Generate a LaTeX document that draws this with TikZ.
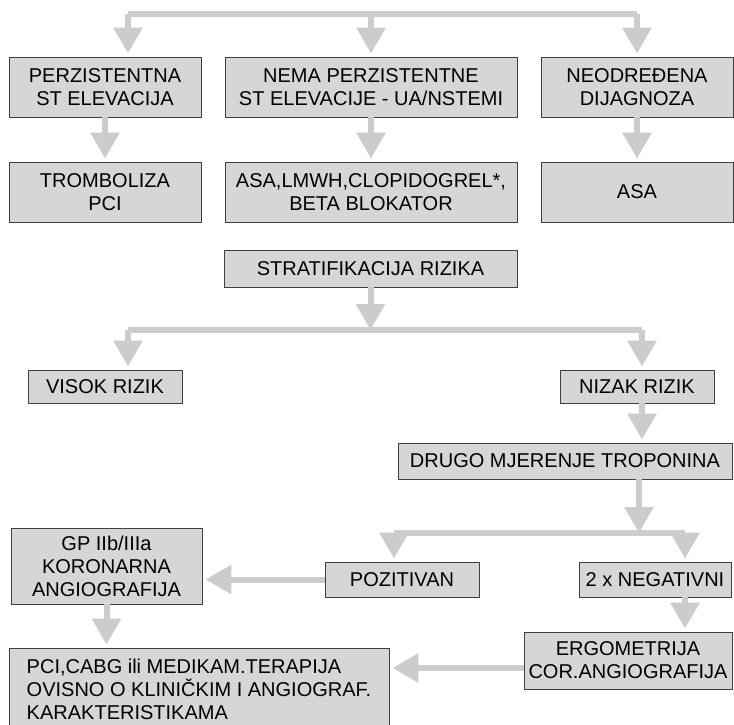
\documentclass[tikz,border=0pt]{standalone}
\usepackage{fontspec}
\setmainfont{Liberation Sans}
\usetikzlibrary{arrows.meta}

\definecolor{boxgray}{gray}{0.84}
\definecolor{flowgray}{gray}{0.80}

\begin{document}
\begin{tikzpicture}[
    x=1pt, y=-1pt,
    box/.style={draw=black!75, fill=boxgray, line width=0.9pt, align=center,
        inner sep=0pt, font=\fontsize{20}{23}\selectfont},
    flow/.style={flowgray, line width=6pt},
    go/.style={flow, -{Triangle[width=28pt,length=26pt]}, shorten >=3pt}
]

\useasboundingbox (0,0) rectangle (734,725);

% =========================
% TOP ROW
% =========================
\node[box, minimum width=192, minimum height=60] (pst) at (105,87)
    {PERZISTENTNA\\ST ELEVACIJA};
\node[box, minimum width=292, minimum height=60] (nema) at (371,87)
    {NEMA PERZISTENTNE\\ST ELEVACIJE - UA/NSTEMI};
\node[box, minimum width=192, minimum height=60] (neo) at (637,87)
    {NEODREĐENA\\DIJAGNOZA};

\node[box, minimum width=192, minimum height=60] (trom) at (105,192)
    {TROMBOLIZA\\PCI};
\node[box, minimum width=292, minimum height=60] (lmwh) at (371,192)
    {ASA,LMWH,CLOPIDOGREL*,\\BETA BLOKATOR};
\node[box, minimum width=192, minimum height=60] (asa) at (637,192)
    {ASA};

\coordinate (tl) at (128,14);
\coordinate (tm) at (371,14);
\coordinate (tr) at (637,14);
\draw[flow] (tl) -- (tr);
\draw[go] (tl) -- (tl |- pst.north);
\draw[go] (tm) -- (nema.north);
\draw[go] (tr) -- (neo.north);

\draw[go] (pst.south) -- (trom.north);
\draw[go] (nema.south) -- (lmwh.north);
\draw[go] (neo.south) -- (asa.north);

% =========================
% RISK
% =========================
\node[box, minimum width=293, minimum height=37] (strat) at (370.5,268.5)
    {STRATIFIKACIJA RIZIKA};
\node[box, minimum width=154, minimum height=33] (visok) at (105,386.5)
    {VISOK RIZIK};
\node[box, minimum width=154, minimum height=33] (nizak) at (637,386.5)
    {NIZAK RIZIK};

\coordinate (rl) at (128,330);
\coordinate (rm) at (370.5,330);
\coordinate (rr) at (642,330);
\draw[flow] (rl) -- (rr);
\draw[go, shorten >=0pt] (strat.south) -- (rm);
\draw[go] (rl) -- (rl |- visok.north);
\draw[go] (rr) -- (rr |- nizak.north);

% =========================
% TROPONIN
% =========================
\node[box, minimum width=334, minimum height=36] (drugo) at (565,461)
    {DRUGO MJERENJE TROPONINA};
\draw[go] (nizak.south -| rr) -- (rr |- drugo.north);

\node[box, minimum width=154, minimum height=35] (poz) at (402,579.5)
    {POZITIVAN};
\node[box, minimum width=152, minimum height=35] (neg) at (655,579.5)
    {2 x NEGATIVNI};

\coordinate (pl) at (394,533);
\coordinate (pm) at (639,533);
\coordinate (pr) at (685,533);
\draw[flow] (pl) -- (pr);
\draw[go, shorten >=0pt] (drugo.south -| pm) -- (pm);
\draw[go] (pl) -- (pl |- poz.north);
\draw[go] (pr) -- (pr |- neg.north);

% =========================
% BOTTOM
% =========================
\node[box, minimum width=191, minimum height=76] (gp) at (106.5,566)
    {GP IIb/IIIa\\KORONARNA\\ANGIOGRAFIJA};
\node[box, minimum width=208, minimum height=57] (ergo) at (628,660.5)
    {ERGOMETRIJA\\COR.ANGIOGRAFIJA};
\node[box, align=left, minimum width=380, minimum height=82] (pci) at (199,689)
    {PCI,CABG ili MEDIKAM.TERAPIJA\\OVISNO O KLINIČKIM I ANGIOGRAF.\\KARAKTERISTIKAMA};

\draw[go] (poz.west) -- (gp.east |- poz.west);
\draw[go] (neg.south -| pr) -- (pr |- ergo.north);
\draw[go] (ergo.west |- 0,668) -- (pci.east |- 0,668);
\draw[go] (gp.south) -- (gp.south |- pci.north);
\end{tikzpicture}
\end{document}
